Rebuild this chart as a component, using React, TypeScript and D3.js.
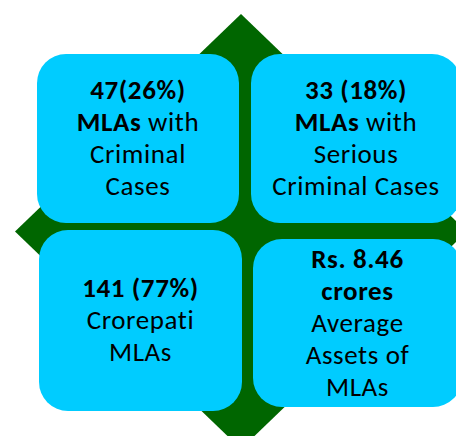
import React from "react";
import * as d3 from "d3";

type Seg = { t: string; b?: boolean };

const box1Lines: Seg[][] = [
  [{ t: "47(26%)", b: true }],
  [{ t: "MLAs", b: true }, { t: " with" }],
  [{ t: "Criminal" }],
  [{ t: "Cases" }],
];
const box2Lines: Seg[][] = [
  [{ t: "33 (18%)", b: true }],
  [{ t: "MLAs", b: true }, { t: " with" }],
  [{ t: "Serious" }],
  [{ t: "Criminal Cases" }],
];
const box3Lines: Seg[][] = [
  [{ t: "141 (77%)", b: true }],
  [{ t: "Crorepati" }],
  [{ t: "MLAs" }],
];
const box4Lines: Seg[][] = [
  [{ t: "Rs. 8.46", b: true }],
  [{ t: "crores", b: true }],
  [{ t: "Average" }],
  [{ t: "Assets of" }],
  [{ t: "MLAs" }],
];

const W = 456;
const H = 436;

const GREEN = "#006600";
const CYAN = "#00CCFF";
const FONT = "Carlito, Calibri, Lato, 'Open Sans', sans-serif";

const boxes = [
  { x0: 37, y0: 54, x1: 239, y1: 223, lines: box1Lines },
  { x0: 251, y0: 54, x1: 461, y1: 223, lines: box2Lines },
  { x0: 39, y0: 230, x1: 242, y1: 411, lines: box3Lines },
  { x0: 253, y0: 239, x1: 462, y1: 407, lines: box4Lines },
];

function diamondPath(cx: number, cy: number, hw: number, hh: number) {
  const p = d3.path();
  p.moveTo(cx, cy - hh);
  p.lineTo(cx + hw, cy);
  p.lineTo(cx, cy + hh);
  p.lineTo(cx - hw, cy);
  p.closePath();
  return p.toString();
}

export default function App() {
  const lineH = 32;
  return (
    <svg
      width={W}
      height={H}
      style={{ position: "absolute", left: 0, top: 0, background: "#fff" }}
      fontFamily={FONT}
    >
      <rect x={0} y={0} width={W} height={H} fill="#fff" />
      <path d={diamondPath(241, 231.5, 226, 217.5)} fill={GREEN} />
      {boxes.map((bx, i) => {
        const cx = (bx.x0 + bx.x1) / 2;
        const cy = (bx.y0 + bx.y1) / 2;
        const n = bx.lines.length;
        return (
          <g key={i}>
            <rect
              x={bx.x0}
              y={bx.y0}
              width={bx.x1 - bx.x0}
              height={bx.y1 - bx.y0}
              rx={29}
              ry={29}
              fill={CYAN}
            />
            <text
              textAnchor="middle"
              fontSize={27}
              letterSpacing={0.6}
              fill="#000"
            >
              {bx.lines.map((segs, j) => (
                <tspan
                  key={j}
                  x={cx}
                  y={cy + 8.5 + (j - (n - 1) / 2) * lineH}
                >
                  {segs.map((s, k) => (
                    <tspan key={k} fontWeight={s.b ? 700 : 400}>
                      {s.t}
                    </tspan>
                  ))}
                </tspan>
              ))}
            </text>
          </g>
        );
      })}
    </svg>
  );
}
